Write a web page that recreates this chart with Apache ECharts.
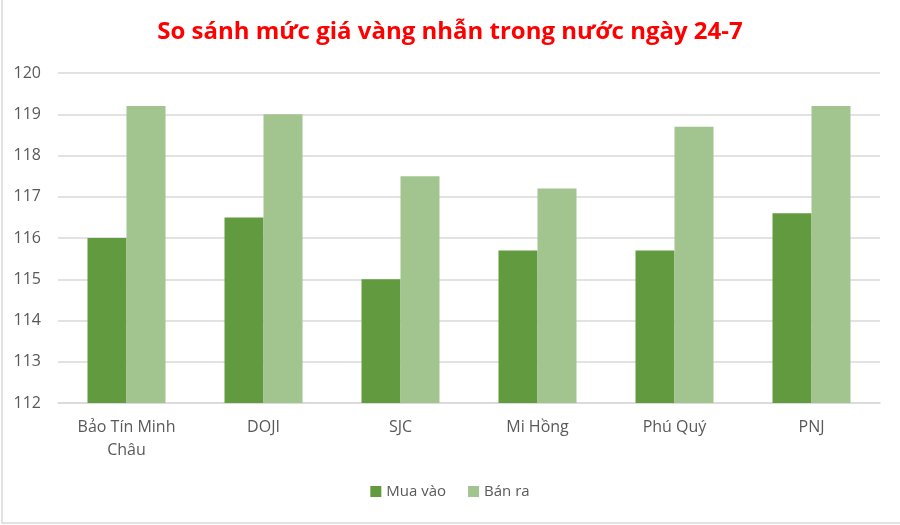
<!DOCTYPE html>
<html>
<head>
<meta charset="UTF-8">
<title>So sánh mức giá vàng nhẫn</title>
<script src="https://cdn.jsdelivr.net/npm/echarts@6/dist/echarts.min.js"></script>
<style>
html,body{margin:0;padding:0;background:#fff;}
#chart{width:900px;height:525px;}
</style>
</head>
<body>
<div id="chart"></div>
<script type="text/javascript">
// du lieu doc tu hinh
var categories = ['Bảo Tín Minh\nChâu', 'DOJI', 'SJC', 'Mi Hồng', 'Phú Quý', 'PNJ'];
var muaVao = [116.0, 116.5, 115.0, 115.7, 115.7, 116.6];
var banRa = [119.2, 119.0, 117.5, 117.2, 118.7, 119.2];
var seriesNames = ['Mua vào', 'Bán ra'];

var myChart = echarts.init(document.getElementById('chart'));
var font = '"Open Sans", "Noto Sans", sans-serif';

option = {
    animation: false,
    backgroundColor: '#fff',
    title: {
        text: 'So sánh mức giá vàng nhẫn trong nước ngày 24-7',
        left: 'center',
        top: 15,
        textStyle: {
            color: '#ff0000',
            fontSize: 24,
            fontWeight: 'bold',
            fontFamily: font
        }
    },
    legend: {
        data: seriesNames,
        bottom: 21,
        left: 'center',
        itemWidth: 11,
        itemHeight: 11,
        itemGap: 22,
        icon: 'rect',
        textStyle: { color: '#595959', fontSize: 15, fontFamily: font }
    },
    grid: {
        left: 58,
        right: 20,
        top: 73,
        bottom: 122
    },
    xAxis: {
        type: 'category',
        data: categories,
        axisLine: { lineStyle: { color: '#d9d9d9', width: 1.5 } },
        axisTick: { show: false },
        axisLabel: {
            color: '#595959',
            fontSize: 16,
            fontFamily: font,
            margin: 13,
            lineHeight: 23
        }
    },
    yAxis: {
        type: 'value',
        min: 112,
        max: 120,
        interval: 1,
        axisLine: { show: false },
        axisTick: { show: false },
        axisLabel: { color: '#595959', fontSize: 16, fontFamily: font, margin: 17 },
        splitLine: { lineStyle: { color: '#d9d9d9', width: 1.5 } }
    },
    series: [
        {
            name: seriesNames[0],
            type: 'bar',
            data: muaVao,
            barWidth: 39,
            barGap: '0%',
            itemStyle: { color: '#629b3f' }
        },
        {
            name: seriesNames[1],
            type: 'bar',
            data: banRa,
            barWidth: 39,
            itemStyle: { color: '#a2c48f' }
        }
    ],
    graphic: [{
        type: 'rect',
        shape: { x: 2, y: -5, width: 910, height: 528 },
        style: { fill: 'none', stroke: '#d9d9d9', lineWidth: 1.5 },
        silent: true
    }]
};

myChart.setOption(option);
</script>
</body>
</html>
